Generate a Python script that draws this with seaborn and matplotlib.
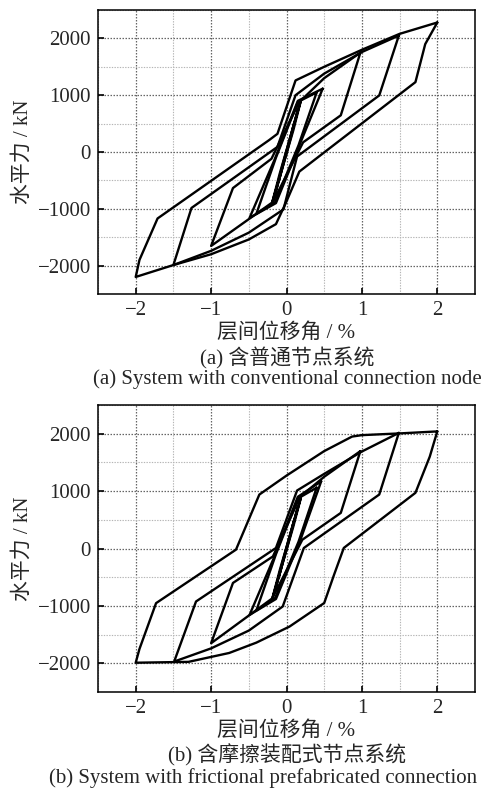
import matplotlib
matplotlib.use("Agg")
import matplotlib.pyplot as plt
from matplotlib.ticker import MultipleLocator
import numpy as np
import pandas as pd
import seaborn as sns

# ---------------- hysteresis loops, panel (a): conventional connection node ----------------
# each loop: positive peak -> unloading -> negative peak -> reloading -> positive peak
A_DRIFT_200 = [2.0, 1.84, 1.71, 0.17, -0.01, -0.14, -0.5, -1.0, -1.5, -2.0, -1.95, -1.71, -0.23, -0.12, 0.12, 0.5, 1.0, 1.5, 2.0]
A_FORCE_200 = [2280, 1900, 1230, -345, -900, -1270, -1540, -1800, -1990, -2200, -1900, -1170, 210, 320, 1260, 1500, 1800, 2080, 2280]

A_DRIFT_150 = [1.49, 1.23, 0.14, -0.04, -0.5, -1.0, -1.5, -1.26, -0.12, 0.12, 0.5, 1.0, 1.49]
A_FORCE_150 = [2050, 996, -80, -1010, -1420, -1740, -1990, -985, 90, 1000, 1380, 1760, 2050]

A_DRIFT_100 = [0.98, 0.72, 0.22, -0.18, -1.0, -0.71, -0.2, 0.17, 0.5, 0.98]
A_FORCE_100 = [1750, 646, 170, -880, -1654, -635, -120, 880, 1300, 1750]

A_DRIFT_050 = [0.48, 0.19, -0.14, -0.49, -0.16, 0.15, 0.48]
A_FORCE_050 = [1115, 180, -900, -1160, -140, 900, 1115]

A_DRIFT_040 = [0.40, 0.16, -0.15, -0.40, -0.14, 0.15, 0.40]
A_FORCE_040 = [1050, 120, -880, -1090, -100, 880, 1050]

A_DRIFT_020 = [0.19, 0.09, -0.19, -0.09, 0.19]
A_FORCE_020 = [900, 380, -890, -380, 900]

A_DRIFT_015 = [0.15, 0.06, -0.15, -0.06, 0.15]
A_FORCE_015 = [740, 270, -740, -270, 740]

A_DRIFT_010 = [0.10, 0.04, -0.10, -0.04, 0.10]
A_FORCE_010 = [500, 180, -500, -180, 500]

# ---------------- hysteresis loops, panel (b): frictional prefabricated connection ----------------
B_DRIFT_200 = [2.0, 1.90, 1.71, 0.76, 0.63, 0.50, 0.04, -0.4, -0.76, -1.3, -2.0, -1.95, -1.73, -0.67, -0.36, 0.0, 0.5, 0.87, 1.0, 1.5, 2.0]
B_FORCE_200 = [2040, 1600, 970, 10, -460, -950, -1360, -1640, -1820, -1975, -1990, -1750, -952, -20, 940, 1270, 1697, 1950, 1975, 2005, 2040]

B_DRIFT_150 = [1.49, 1.23, 0.23, -0.05, -0.5, -1.0, -1.49, -1.20, -0.14, 0.14, 0.5, 1.0, 1.49]
B_FORCE_150 = [2014, 940, 9, -1010, -1430, -1740, -1970, -923, 9, 1010, 1300, 1690, 2014]

B_DRIFT_100 = [0.98, 0.72, 0.21, -0.19, -1.0, -0.71, -0.18, 0.18, 0.5, 0.98]
B_FORCE_100 = [1697, 620, 153, -870, -1650, -600, -138, 900, 1250, 1697]

B_DRIFT_050 = [0.46, 0.19, -0.14, -0.49, -0.16, 0.15, 0.46]
B_FORCE_050 = [1170, 170, -880, -1157, -140, 900, 1170]

B_DRIFT_040 = [0.40, 0.16, -0.15, -0.40, -0.14, 0.15, 0.40]
B_FORCE_040 = [1060, 120, -860, -1080, -100, 870, 1060]

B_DRIFT_020 = [0.19, 0.09, -0.19, -0.09, 0.19]
B_FORCE_020 = [880, 380, -880, -380, 880]

B_DRIFT_015 = [0.15, 0.06, -0.15, -0.06, 0.15]
B_FORCE_015 = [720, 270, -720, -270, 720]

B_DRIFT_010 = [0.10, 0.04, -0.10, -0.04, 0.10]
B_FORCE_010 = [490, 180, -490, -180, 490]

X_TICKS = [-2, -1, 0, 1, 2]
Y_TICKS = [-2000, -1000, 0, 1000, 2000]
X_LABEL = "层间位移角 / %"
Y_LABEL = "水平力 / kN"
CAPTIONS_CN = ["(a) 含普通节点系统", "(b) 含摩擦装配式节点系统"]
CAPTIONS_EN = ["(a) System with conventional connection node",
               "(b) System with frictional prefabricated connection"]

PANEL_LOOPS = {
    "a": [(A_DRIFT_200, A_FORCE_200), (A_DRIFT_150, A_FORCE_150), (A_DRIFT_100, A_FORCE_100),
          (A_DRIFT_050, A_FORCE_050), (A_DRIFT_040, A_FORCE_040), (A_DRIFT_020, A_FORCE_020),
          (A_DRIFT_015, A_FORCE_015), (A_DRIFT_010, A_FORCE_010)],
    "b": [(B_DRIFT_200, B_FORCE_200), (B_DRIFT_150, B_FORCE_150), (B_DRIFT_100, B_FORCE_100),
          (B_DRIFT_050, B_FORCE_050), (B_DRIFT_040, B_FORCE_040), (B_DRIFT_020, B_FORCE_020),
          (B_DRIFT_015, B_FORCE_015), (B_DRIFT_010, B_FORCE_010)],
}


def loops_frame(loops):
    rows = []
    for k, (xs, ys) in enumerate(loops):
        for i, (x, y) in enumerate(zip(xs, ys)):
            rows.append({"loop": k, "step": i, "drift": x, "force": y})
    return pd.DataFrame(rows)


sns.set_theme(style="white")
FONT = ["Liberation Serif", "Noto Sans CJK SC", "DejaVu Sans"]
plt.rcParams["font.family"] = FONT
plt.rcParams["axes.unicode_minus"] = True

fig = plt.figure(figsize=(4.85, 7.89), dpi=100)
W, H = 485.0, 789.0
# axes boxes in pixels: left, right, top, bottom
boxes = {"a": (98, 475, 10, 294), "b": (98, 475, 405, 692)}
fs = 15

for idx, key in enumerate(["a", "b"]):
    l, r, t, b = boxes[key]
    ax = fig.add_axes([l / W, (H - b) / H, (r - l) / W, (b - t) / H])
    df = loops_frame(PANEL_LOOPS[key])
    sns.lineplot(data=df, x="drift", y="force", units="loop", estimator=None,
                 sort=False, color="black", linewidth=1.7, ax=ax, legend=False)
    ax.set_xlim(-2.5, 2.5)
    ax.set_ylim(-2500, 2500)
    ax.xaxis.set_major_locator(MultipleLocator(1))
    ax.xaxis.set_minor_locator(MultipleLocator(0.5))
    ax.yaxis.set_major_locator(MultipleLocator(1000))
    ax.yaxis.set_minor_locator(MultipleLocator(500))
    ax.set_xticks(X_TICKS)
    ax.set_yticks(Y_TICKS)
    ax.set_xticklabels(["\u22122", "\u22121", "0", "1", "2"])
    ax.set_yticklabels(["\u22122000", "\u22121000", "0", "1000", "2000"])
    ax.grid(which="major", linestyle=(0, (1.2, 1.2)), color="#666666", linewidth=0.9)
    ax.grid(which="minor", linestyle=(0, (1.2, 1.2)), color="#b5b5b5", linewidth=0.8)
    ax.set_axisbelow(True)
    ax.tick_params(which="major", direction="in", length=4, width=1.2, color="black",
                   labelsize=fs, pad=5, left=True, bottom=True)
    ax.tick_params(which="minor", length=0)
    for s in ax.spines.values():
        s.set_color("black")
        s.set_linewidth(1.1)
    ax.set_xlabel("")
    ax.set_ylabel("")
    cx = (l + r) / 2 / W
    fig.text(cx, 1 - (b + 39) / H, X_LABEL, ha="center", va="center", fontsize=fs, family=FONT)
    fig.text(23 / W, 1 - ((t + b) / 2) / H, Y_LABEL, ha="center", va="center",
             rotation=90, fontsize=fs, family=FONT)

fig.text(287 / W, 1 - 358 / H, CAPTIONS_CN[0], ha="center", va="center", fontsize=fs, family=FONT)
fig.text(287 / W, 1 - 379 / H, CAPTIONS_EN[0], ha="center", va="center", fontsize=fs, family=FONT)
fig.text(287 / W, 1 - 755 / H, CAPTIONS_CN[1], ha="center", va="center", fontsize=fs, family=FONT)
fig.text(263 / W, 1 - 778 / H, CAPTIONS_EN[1], ha="center", va="center", fontsize=fs, family=FONT)

fig.savefig("out.png", dpi=100, facecolor="white")
